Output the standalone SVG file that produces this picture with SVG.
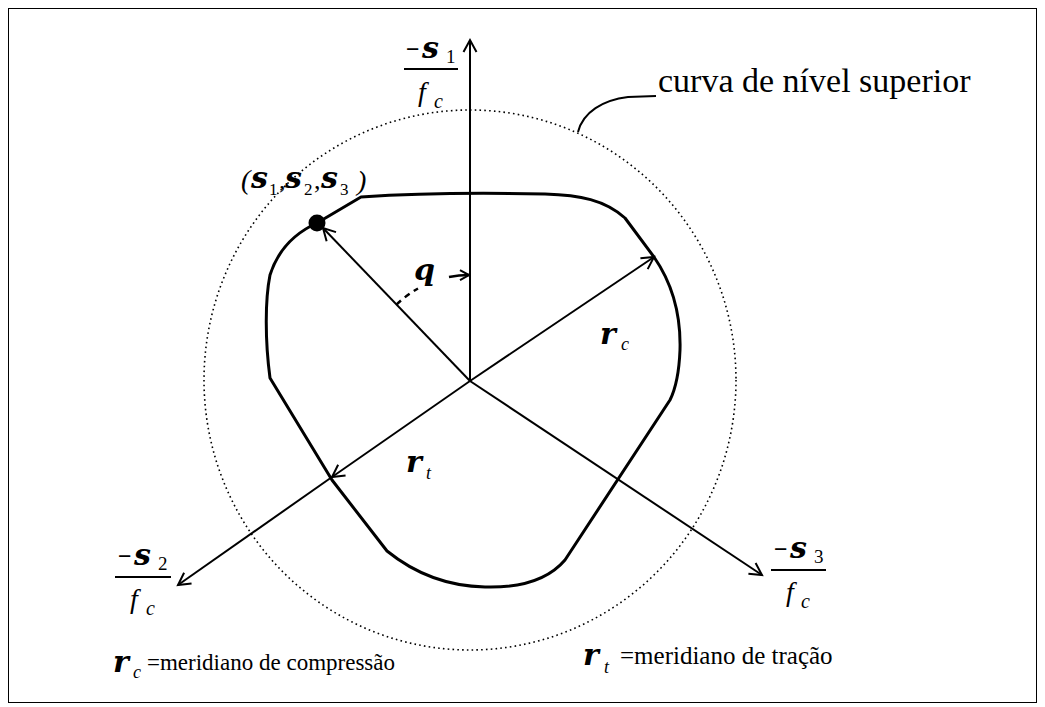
<svg xmlns="http://www.w3.org/2000/svg" width="1045" height="707" viewBox="0 0 1045 707">
<style>
.ax{stroke:#000;stroke-width:2;fill:none}
.sym{font-family:"DejaVu Serif","Liberation Serif",serif;font-weight:bold;font-style:italic}
.rm{font-family:"Liberation Serif",serif}
.it{font-family:"Liberation Serif",serif;font-style:italic}
.mn{font-family:"Liberation Serif",serif;font-weight:bold}
</style>
<defs>
<marker id="ah" markerUnits="userSpaceOnUse" markerWidth="20" markerHeight="16" viewBox="0 0 20 16" refX="15" refY="8" orient="auto">
<path d="M3,1.5 L15,8 L3,14.5" fill="none" stroke="#000" stroke-width="2"/>
</marker>
<marker id="ahs" markerUnits="userSpaceOnUse" markerWidth="16" markerHeight="14" viewBox="0 0 16 14" refX="12" refY="7" orient="auto">
<path d="M3,2 L12,7 L3,12" fill="none" stroke="#000" stroke-width="2"/>
</marker>
</defs>
<rect x="0" y="0" width="1045" height="707" fill="#fff"/>
<rect x="8.5" y="8.5" width="1028" height="694" fill="none" stroke="#000" stroke-width="1"/>

<g id="level-curve">
<ellipse cx="470" cy="380" rx="266" ry="270" fill="none" stroke="#000" stroke-width="1.6" stroke-dasharray="1.6 3.2"/>
<path d="M578,132 C583,112 603,100 628,97 L656,96" fill="none" stroke="#000" stroke-width="2"/>
<text class="rm" x="658" y="92" font-size="34">curva de nível superior</text>
</g>

<g id="yield-surface">
<path d="M317,223 L361,197 C420,193 500,193 545,194 C580,195 605,200 625,218 L654,257 C672,283 681,315 680,350 C679,375 675,390 670,400 L565,560 C548,580 520,588 485,587 C440,586 408,568 387,551 L332,480 L270,378 C265,340 265,300 270,275 C278,250 295,233 317,223 Z" fill="none" stroke="#000" stroke-width="3" stroke-linejoin="round"/>
</g>

<g id="connectors">
<line class="ax" x1="470" y1="381" x2="470" y2="40" marker-end="url(#ah)"/>
<line class="ax" x1="470" y1="381" x2="332" y2="477" marker-end="url(#ah)"/>
<line class="ax" x1="332" y1="477" x2="178" y2="585" marker-end="url(#ah)"/>
<line class="ax" x1="470" y1="381" x2="762" y2="575" marker-end="url(#ah)"/>
<line class="ax" x1="470" y1="381" x2="654" y2="257" marker-end="url(#ah)"/>
<line class="ax" x1="470" y1="381" x2="323" y2="228" marker-end="url(#ah)"/>
<path d="M396.5,304.6 A106,106 0 0,1 418,288.5" fill="none" stroke="#000" stroke-width="2.5" stroke-dasharray="6 5"/>
<path d="M449,277 A106,106 0 0,1 469,275" fill="none" stroke="#000" stroke-width="2.5" marker-end="url(#ahs)"/>
</g>

<g id="point">
<circle cx="317" cy="223" r="8.5" fill="#000"/>
<text font-size="30"><tspan class="it" font-size="28" x="241" y="189">(</tspan><tspan class="sym" x="251" y="188">s</tspan><tspan class="rm" x="269" y="195" font-size="17">1</tspan><tspan class="rm" x="279" y="189" font-size="26">,</tspan><tspan class="sym" x="285" y="188">s</tspan><tspan class="rm" x="304" y="195" font-size="17">2</tspan><tspan class="rm" x="314" y="189" font-size="26">,</tspan><tspan class="sym" x="321" y="188">s</tspan><tspan class="rm" x="340" y="195" font-size="17">3</tspan><tspan class="it" font-size="28" x="357" y="190">)</tspan></text>
</g>

<g id="label-s1">
<text class="mn" x="406" y="57" font-size="24">−</text>
<text class="sym" x="422" y="58" font-size="30">s</text>
<text class="rm" x="446" y="63" font-size="19">1</text>
<line x1="404" y1="69" x2="458" y2="69" stroke="#000" stroke-width="2"/>
<text class="it" x="418" y="101" font-size="28">f</text>
<text class="it" x="434" y="108" font-size="20">c</text>
</g>

<g id="label-s2">
<text class="mn" x="118" y="564" font-size="24">−</text>
<text class="sym" x="134" y="565" font-size="30">s</text>
<text class="rm" x="158" y="570" font-size="19">2</text>
<line x1="115" y1="577" x2="171" y2="577" stroke="#000" stroke-width="2"/>
<text class="it" x="130" y="608" font-size="28">f</text>
<text class="it" x="146" y="615" font-size="20">c</text>
</g>

<g id="label-s3">
<text class="mn" x="774" y="557" font-size="24">−</text>
<text class="sym" x="790" y="558" font-size="30">s</text>
<text class="rm" x="814" y="563" font-size="19">3</text>
<line x1="771" y1="570" x2="826" y2="570" stroke="#000" stroke-width="2"/>
<text class="it" x="786" y="601" font-size="28">f</text>
<text class="it" x="801" y="608" font-size="20">c</text>
</g>

<g id="label-theta">
<text class="sym" x="414" y="280" font-size="30">q</text>
</g>

<g id="label-rc">
<text class="sym" x="600" y="344" font-size="30">r</text>
<text class="it" x="621" y="350" font-size="18">c</text>
</g>

<g id="label-rt">
<text class="sym" x="406" y="472" font-size="30">r</text>
<text class="it" x="426" y="479" font-size="18">t</text>
</g>

<g id="legend-rc">
<text class="sym" x="113" y="672" font-size="30">r</text>
<text class="it" x="133" y="678" font-size="18">c</text>
<text class="rm" x="147" y="670" font-size="23">=meridiano de compressão</text>
</g>

<g id="legend-rt">
<text class="sym" x="583" y="665" font-size="30">r</text>
<text class="it" x="604" y="673" font-size="18">t</text>
<text class="rm" x="620" y="664" font-size="25">=meridiano de tração</text>
</g>
</svg>
